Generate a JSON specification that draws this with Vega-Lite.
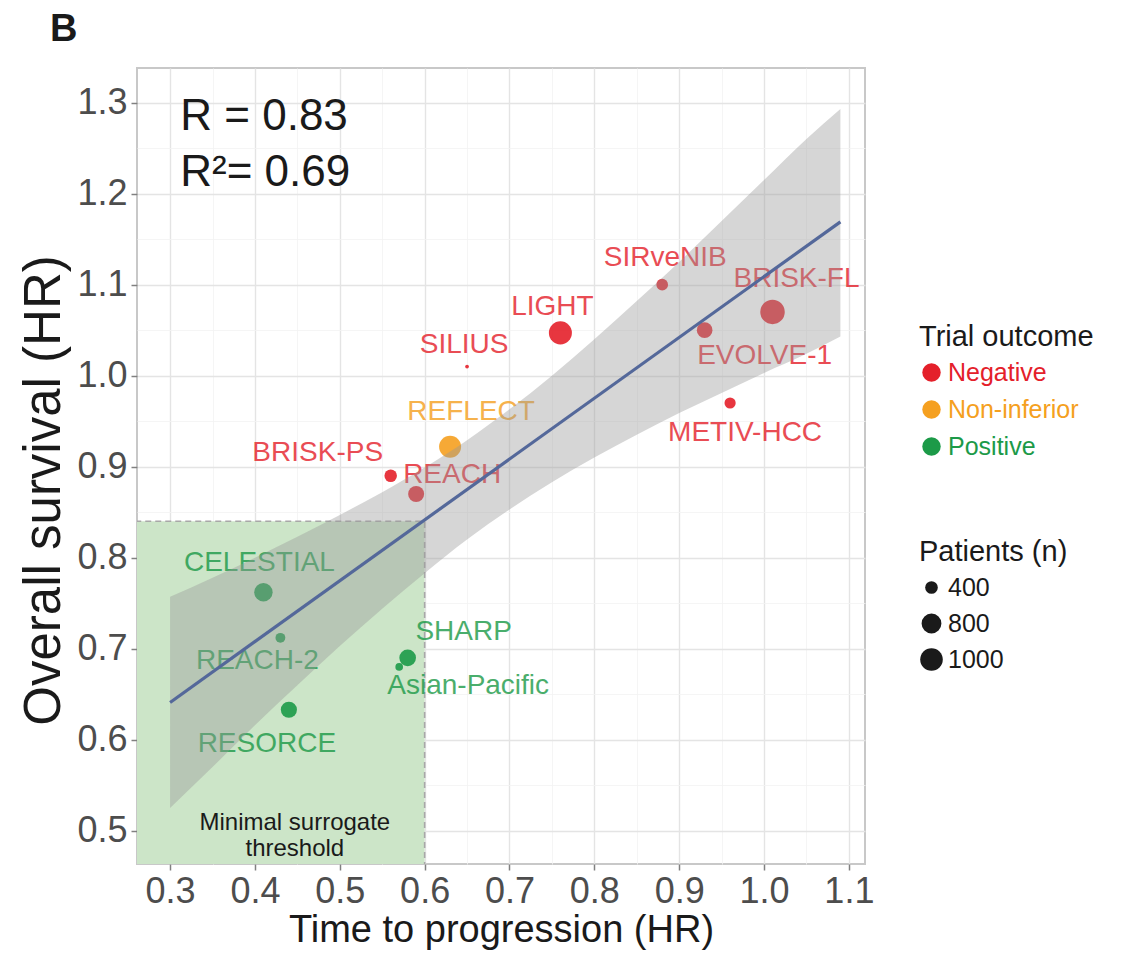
{
  "$schema": "https://vega.github.io/schema/vega-lite/v6.json",
  "width": 728,
  "height": 796,
  "autosize": {"type": "none"},
  "padding": {"left": 137, "top": 68, "right": 261, "bottom": 102},
  "background": "#ffffff",
  "config": {"font": "Liberation Sans", "view": {"stroke": "#c8c8c8", "strokeWidth": 2}},
  "title": {"text": "B", "anchor": "start", "frame": "group", "dx": -87, "dy": 7, "offset": 26, "fontSize": 38, "fontWeight": "bold", "color": "#1a1a1a", "font": "Liberation Sans"},
  "datasets": {
    "trials": [
      {"trial": "SIRveNIB", "x": 0.88, "y": 1.10, "n": 360, "outcome": "Negative"},
      {"trial": "BRISK-FL", "x": 1.01, "y": 1.07, "n": 1155, "outcome": "Negative"},
      {"trial": "LIGHT", "x": 0.76, "y": 1.047, "n": 1035, "outcome": "Negative"},
      {"trial": "EVOLVE-1", "x": 0.93, "y": 1.05, "n": 546, "outcome": "Negative"},
      {"trial": "SILIUS", "x": 0.65, "y": 1.01, "n": 150, "outcome": "Negative"},
      {"trial": "METIV-HCC", "x": 0.96, "y": 0.97, "n": 340, "outcome": "Negative"},
      {"trial": "REFLECT", "x": 0.63, "y": 0.922, "n": 954, "outcome": "Non-inferior"},
      {"trial": "BRISK-PS", "x": 0.56, "y": 0.89, "n": 395, "outcome": "Negative"},
      {"trial": "REACH", "x": 0.59, "y": 0.87, "n": 565, "outcome": "Negative"},
      {"trial": "CELESTIAL", "x": 0.41, "y": 0.762, "n": 707, "outcome": "Positive"},
      {"trial": "REACH-2", "x": 0.43, "y": 0.712, "n": 292, "outcome": "Positive"},
      {"trial": "SHARP", "x": 0.58, "y": 0.69, "n": 602, "outcome": "Positive"},
      {"trial": "Asian-Pacific", "x": 0.57, "y": 0.68, "n": 226, "outcome": "Positive"},
      {"trial": "RESORCE", "x": 0.44, "y": 0.633, "n": 573, "outcome": "Positive"}
    ],
    "band": [
      {"x": 0.30, "y": 0.525, "y2": 0.757},
      {"x": 0.35, "y": 0.570, "y2": 0.778},
      {"x": 0.40, "y": 0.616, "y2": 0.800},
      {"x": 0.45, "y": 0.660, "y2": 0.823},
      {"x": 0.50, "y": 0.703, "y2": 0.847},
      {"x": 0.55, "y": 0.744, "y2": 0.872},
      {"x": 0.60, "y": 0.783, "y2": 0.899},
      {"x": 0.65, "y": 0.820, "y2": 0.929},
      {"x": 0.70, "y": 0.853, "y2": 0.963},
      {"x": 0.75, "y": 0.883, "y2": 1.000},
      {"x": 0.80, "y": 0.910, "y2": 1.040},
      {"x": 0.85, "y": 0.935, "y2": 1.082},
      {"x": 0.90, "y": 0.959, "y2": 1.125},
      {"x": 0.95, "y": 0.981, "y2": 1.170},
      {"x": 1.00, "y": 1.003, "y2": 1.215},
      {"x": 1.05, "y": 1.024, "y2": 1.260},
      {"x": 1.09, "y": 1.043, "y2": 1.293}
    ],
    "fitline": [
      {"x": 0.30, "y": 0.641},
      {"x": 1.09, "y": 1.169}
    ],
    "zone": [{"x": 0.2, "x2": 0.6, "y": 0.4, "y2": 0.84}],
    "stats": [
      {"x": 0.312, "y": 1.270, "label": "R = 0.83"},
      {"x": 0.312, "y": 1.208, "label": "R²= 0.69"}
    ],
    "threshold": [{"x": 0.447, "y": 0.508, "label": "Minimal surrogate\nthreshold"}]
  },
  "encoding": {
    "x": {
      "field": "x", "type": "quantitative",
      "scale": {"domain": [0.261, 1.119], "nice": false, "zero": false},
      "axis": {
        "values": [0.3, 0.35, 0.4, 0.45, 0.5, 0.55, 0.6, 0.65, 0.7, 0.75, 0.8, 0.85, 0.9, 0.95, 1.0, 1.05, 1.1],
        "title": "Time to progression (HR)",
        "titleFontSize": 38, "titleFontWeight": "normal", "titleColor": "#1a1a1a", "titlePadding": 2,
        "labelFontSize": 36, "labelColor": "#4d4d4d", "labelPadding": 4,
        "labelExpr": "round(datum.value*100) % 10 == 0 ? format(datum.value, '.1f') : ''",
        "labelOverlap": false, "labelFlush": false, "labelBound": false,
        "domain": false,
        "tickSize": 6, "tickWidth": 1.5, "tickColor": "#808080",
        "tickOpacity": {"condition": {"test": "round(datum.value*100) % 10 == 0", "value": 1}, "value": 0},
        "grid": true,
        "gridColor": {"condition": {"test": "round(datum.value*100) % 10 == 0", "value": "#e4e4e4"}, "value": "#f2f2f2"},
        "gridWidth": {"condition": {"test": "round(datum.value*100) % 10 == 0", "value": 1.4}, "value": 0.8}
      }
    },
    "y": {
      "field": "y", "type": "quantitative",
      "scale": {"domain": [0.4635, 1.338], "nice": false, "zero": false},
      "axis": {
        "values": [0.5, 0.55, 0.6, 0.65, 0.7, 0.75, 0.8, 0.85, 0.9, 0.95, 1.0, 1.05, 1.1, 1.15, 1.2, 1.25, 1.3],
        "title": "Overall survival (HR)",
        "titleFontSize": 51, "titleFontWeight": "normal", "titleColor": "#1a1a1a", "titlePadding": 6, "titleY": 422,
        "labelFontSize": 36, "labelColor": "#4d4d4d", "labelPadding": 4,
        "labelExpr": "round(datum.value*100) % 10 == 0 ? format(datum.value, '.1f') : ''",
        "labelOverlap": false, "labelFlush": false, "labelBound": false,
        "domain": false,
        "tickSize": 6, "tickWidth": 1.5, "tickColor": "#808080",
        "tickOpacity": {"condition": {"test": "round(datum.value*100) % 10 == 0", "value": 1}, "value": 0},
        "grid": true,
        "gridColor": {"condition": {"test": "round(datum.value*100) % 10 == 0", "value": "#e4e4e4"}, "value": "#f2f2f2"},
        "gridWidth": {"condition": {"test": "round(datum.value*100) % 10 == 0", "value": 1.4}, "value": 0.8}
      }
    }
  },
  "layer": [
    {
      "data": {"name": "zone"},
      "mark": {"type": "rect", "clip": true, "fill": "#cce5c8", "stroke": "#a8a8a8", "strokeDash": [6, 4], "strokeWidth": 1.6},
      "encoding": {"x2": {"field": "x2"}, "y2": {"field": "y2"}}
    },
    {
      "data": {"name": "trials"},
      "mark": {"type": "circle", "opacity": 0.9},
      "encoding": {
        "color": {
          "field": "outcome", "type": "nominal",
          "scale": {"domain": ["Negative", "Non-inferior", "Positive"], "range": ["#e4202a", "#f5a020", "#1c9a48"]},
          "legend": {
            "title": "Trial outcome", "orient": "none", "legendX": 782, "legendY": 255, "padding": 0,
            "titleFontSize": 29, "titleFontWeight": "normal", "titleColor": "#1a1a1a", "titlePadding": 8,
            "labelFontSize": 25, "labelColor": {"expr": "scale('color', datum.value)"}, "labelOffset": 4,
            "symbolType": "circle", "symbolSize": 340, "symbolOpacity": 1, "symbolStrokeWidth": 0, "rowPadding": 11
          }
        },
        "size": {
          "field": "n", "type": "quantitative",
          "scale": {"domain": [150, 1155], "range": [14, 600], "zero": false},
          "legend": {
            "title": "Patients (n)", "orient": "none", "legendX": 782, "legendY": 470, "padding": 0,
            "values": [400, 800, 1000], "format": "d",
            "titleFontSize": 29, "titleFontWeight": "normal", "titleColor": "#1a1a1a", "titlePadding": 8,
            "labelFontSize": 25, "labelColor": "#1a1a1a", "labelOffset": 4,
            "symbolType": "circle", "symbolFillColor": "#1a1a1a", "symbolStrokeColor": "#1a1a1a", "symbolStrokeWidth": 0, "symbolOpacity": 1, "rowPadding": 10
          }
        }
      }
    },
    {"data": {"name": "trials"}, "transform": [{"filter": "datum.trial === 'SIRveNIB'"}], "mark": {"type": "text", "dx": 3, "dy": -27, "fontSize": 28, "opacity": 0.8}, "encoding": {"text": {"field": "trial"}, "color": {"field": "outcome", "type": "nominal", "legend": null}}},
    {"data": {"name": "trials"}, "transform": [{"filter": "datum.trial === 'BRISK-FL'"}], "mark": {"type": "text", "dx": 24, "dy": -33, "fontSize": 28, "opacity": 0.8}, "encoding": {"text": {"field": "trial"}, "color": {"field": "outcome", "type": "nominal", "legend": null}}},
    {"data": {"name": "trials"}, "transform": [{"filter": "datum.trial === 'LIGHT'"}], "mark": {"type": "text", "dx": -8, "dy": -26, "fontSize": 28, "opacity": 0.8}, "encoding": {"text": {"field": "trial"}, "color": {"field": "outcome", "type": "nominal", "legend": null}}},
    {"data": {"name": "trials"}, "transform": [{"filter": "datum.trial === 'SILIUS'"}], "mark": {"type": "text", "dx": -3, "dy": -22, "fontSize": 28, "opacity": 0.8}, "encoding": {"text": {"field": "trial"}, "color": {"field": "outcome", "type": "nominal", "legend": null}}},
    {"data": {"name": "trials"}, "transform": [{"filter": "datum.trial === 'EVOLVE-1'"}], "mark": {"type": "text", "dx": 60, "dy": 26, "fontSize": 28, "opacity": 0.8}, "encoding": {"text": {"field": "trial"}, "color": {"field": "outcome", "type": "nominal", "legend": null}}},
    {"data": {"name": "trials"}, "transform": [{"filter": "datum.trial === 'METIV-HCC'"}], "mark": {"type": "text", "dx": 15, "dy": 30, "fontSize": 28, "opacity": 0.8}, "encoding": {"text": {"field": "trial"}, "color": {"field": "outcome", "type": "nominal", "legend": null}}},
    {"data": {"name": "trials"}, "transform": [{"filter": "datum.trial === 'REFLECT'"}], "mark": {"type": "text", "dx": 21, "dy": -35, "fontSize": 28, "opacity": 0.8}, "encoding": {"text": {"field": "trial"}, "color": {"field": "outcome", "type": "nominal", "legend": null}}},
    {"data": {"name": "trials"}, "transform": [{"filter": "datum.trial === 'BRISK-PS'"}], "mark": {"type": "text", "dx": -73, "dy": -23, "fontSize": 28, "opacity": 0.8}, "encoding": {"text": {"field": "trial"}, "color": {"field": "outcome", "type": "nominal", "legend": null}}},
    {"data": {"name": "trials"}, "transform": [{"filter": "datum.trial === 'REACH'"}], "mark": {"type": "text", "dx": 36, "dy": -19, "fontSize": 28, "opacity": 0.8}, "encoding": {"text": {"field": "trial"}, "color": {"field": "outcome", "type": "nominal", "legend": null}}},
    {"data": {"name": "trials"}, "transform": [{"filter": "datum.trial === 'CELESTIAL'"}], "mark": {"type": "text", "dx": -4, "dy": -29, "fontSize": 28, "opacity": 0.8}, "encoding": {"text": {"field": "trial"}, "color": {"field": "outcome", "type": "nominal", "legend": null}}},
    {"data": {"name": "trials"}, "transform": [{"filter": "datum.trial === 'REACH-2'"}], "mark": {"type": "text", "dx": -23, "dy": 23, "fontSize": 28, "opacity": 0.8}, "encoding": {"text": {"field": "trial"}, "color": {"field": "outcome", "type": "nominal", "legend": null}}},
    {"data": {"name": "trials"}, "transform": [{"filter": "datum.trial === 'SHARP'"}], "mark": {"type": "text", "dx": 56, "dy": -26, "fontSize": 28, "opacity": 0.8}, "encoding": {"text": {"field": "trial"}, "color": {"field": "outcome", "type": "nominal", "legend": null}}},
    {"data": {"name": "trials"}, "transform": [{"filter": "datum.trial === 'Asian-Pacific'"}], "mark": {"type": "text", "dx": 69, "dy": 19, "fontSize": 28, "opacity": 0.8}, "encoding": {"text": {"field": "trial"}, "color": {"field": "outcome", "type": "nominal", "legend": null}}},
    {"data": {"name": "trials"}, "transform": [{"filter": "datum.trial === 'RESORCE'"}], "mark": {"type": "text", "dx": -22, "dy": 34, "fontSize": 28, "opacity": 0.8}, "encoding": {"text": {"field": "trial"}, "color": {"field": "outcome", "type": "nominal", "legend": null}}},
    {
      "data": {"name": "band"},
      "mark": {"type": "area", "interpolate": "monotone", "color": "#999999", "opacity": 0.4},
      "encoding": {"y2": {"field": "y2"}}
    },
    {
      "data": {"name": "fitline"},
      "mark": {"type": "line", "color": "#54689a", "strokeWidth": 3.2},
      "encoding": {}
    },
    {
      "data": {"name": "threshold"},
      "mark": {"type": "text", "fontSize": 24, "lineBreak": "\n", "lineHeight": 26, "baseline": "middle", "color": "#1a1a1a"},
      "encoding": {"text": {"field": "label"}}
    },
    {
      "data": {"name": "stats"},
      "mark": {"type": "text", "fontSize": 44, "align": "left", "baseline": "alphabetic", "color": "#1a1a1a"},
      "encoding": {"text": {"field": "label"}}
    }
  ]
}
